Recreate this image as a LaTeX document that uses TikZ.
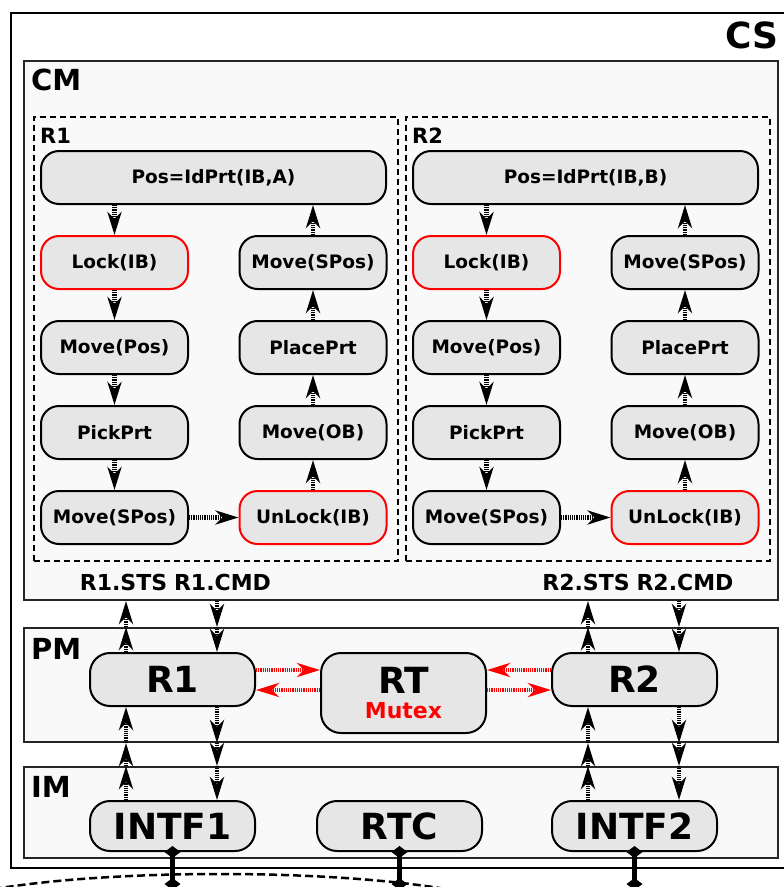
\documentclass[tikz,border=0pt]{standalone}
\usepackage{fontspec}
\setmainfont{DejaVu Sans}
\usetikzlibrary{arrows.meta}
\definecolor{layerfill}{HTML}{F9F9F9}
\definecolor{blkfill}{HTML}{E6E6E6}

\tikzset{
  blk/.style={draw, line width=2pt, fill=blkfill, rounded corners=18pt, inner sep=0pt,
    minimum width=147pt, minimum height=53pt, font=\fontsize{18.5}{20}\selectfont\bfseries},
  lockblk/.style={blk, draw=red},
  bigblk/.style={blk, minimum width=165pt, rounded corners=20pt, font=\fontsize{36}{40}\selectfont\bfseries},
  layer/.style={draw=black!85, line width=2pt, fill=layerfill, anchor=north west, inner sep=0pt, minimum width=754pt},
  robot/.style={draw, dash pattern=on 6pt off 4pt, line width=1.8pt, anchor=north west, inner sep=0pt,
    minimum width=364pt, minimum height=444pt},
  flow/.style={line width=4.5pt, dash pattern=on 1.2pt off 1pt, -{Stealth[length=23pt,width=14pt,inset=7pt]}},
  mutexflow/.style={flow, draw=red, fill=red},
  link/.style={line width=5pt, {Diamond[length=12pt,width=16pt]}-{Diamond[length=12pt,width=16pt]}},
  tag/.style={font=\fontsize{29}{30}\selectfont\bfseries, anchor=base west, inner sep=0pt},
  port/.style={font=\fontsize{22}{24}\selectfont\bfseries, anchor=base, inner sep=0pt}
}

\begin{document}
\begin{tikzpicture}[x=1pt,y=-1pt]
  \useasboundingbox (0,0) rectangle (784,887);

  % layers
  \node[draw, line width=2pt, fill=white, anchor=north west, inner sep=0pt,
    minimum width=790pt, minimum height=855pt] (cs) at (10,12) {};
  \node[tag, anchor=base east, font=\fontsize{36}{40}\selectfont\bfseries] (cstag) at (779,48) {CS};
  \node[layer, minimum height=539pt] (cm) at (23,60) {};
  \node[layer, minimum height=114pt] (pm) at (23,627) {};
  \node[layer, minimum height=91pt] (im) at (23,766) {};
  \node[tag] (cmtag) at (31,90) {CM};
  \node[tag] (pmtag) at (31,659) {PM};
  \node[tag] (imtag) at (31,797) {IM};

  % robot programs
  \foreach \rb/\dx/\ab in {1/0/A, 2/372/B} {
    \node[robot] (rbox\rb) at (33+\dx,116) {};
    \node[tag, font=\fontsize{21}{22}\selectfont\bfseries] (rtag\rb) at (40+\dx,143) {R\rb};
    \node[blk, minimum width=345pt] (pos\rb) at (213.5+\dx,177.5) {Pos=IdPrt(IB,\ab)};
    \node[lockblk] (lock\rb) at (114.5+\dx,262.5) {Lock(IB)};
    \node[blk] (mvpos\rb) at (114.5+\dx,347.5) {Move(Pos)};
    \node[blk] (pick\rb) at (114.5+\dx,432.5) {PickPrt};
    \node[blk] (mvsb\rb) at (114.5+\dx,517.5) {Move(SPos)};
    \node[lockblk] (unlock\rb) at (313+\dx,517.5) {UnLock(IB)};
    \node[blk] (mvob\rb) at (313+\dx,432.5) {Move(OB)};
    \node[blk] (place\rb) at (313+\dx,347.5) {PlacePrt};
    \node[blk] (mvst\rb) at (313+\dx,262.5) {Move(SPos)};
    \draw[flow] (pos\rb.south -| lock\rb.north) -- (lock\rb.north);
    \draw[flow] (lock\rb) -- (mvpos\rb);
    \draw[flow] (mvpos\rb) -- (pick\rb);
    \draw[flow] (pick\rb) -- (mvsb\rb);
    \draw[flow] (mvsb\rb) -- (unlock\rb);
    \draw[flow] (unlock\rb) -- (mvob\rb);
    \draw[flow] (mvob\rb) -- (place\rb);
    \draw[flow] (place\rb) -- (mvst\rb);
    \draw[flow] (mvst\rb.north) -- (mvst\rb.north |- pos\rb.south);
  }
  \node[port] (sts1tag) at (123.5,590) {R1.STS};
  \node[port] (cmd1tag) at (222.5,590) {R1.CMD};
  \node[port] (sts2tag) at (586,590) {R2.STS};
  \node[port] (cmd2tag) at (685,590) {R2.CMD};

  % process and interface modules
  \node[bigblk] (pr1) at (172.5,679.5) {R1};
  \node[bigblk, minimum height=80pt, align=center] (rt) at (403.5,693)
    {RT\\[-15pt]\textcolor{red}{\fontsize{22}{24}\selectfont Mutex}};
  \node[bigblk] (pr2) at (634.5,679.5) {R2};
  \node[bigblk, minimum height=50pt] (intf1) at (172.5,826) {INTF1};
  \node[bigblk, minimum height=50pt] (rtc) at (399.5,826) {RTC};
  \node[bigblk, minimum height=50pt] (intf2) at (634.5,826) {INTF2};

  % mutex requests
  \draw[mutexflow] ([yshift=9.5pt]pr1.east) -- ([yshift=9.5pt]pr1.east -| rt.west);
  \draw[mutexflow] ([yshift=-10.5pt]pr1.east -| rt.west) -- ([yshift=-10.5pt]pr1.east);
  \draw[mutexflow] ([yshift=9.5pt]pr2.west) -- ([yshift=9.5pt]pr2.west -| rt.east);
  \draw[mutexflow] ([yshift=-10.5pt]pr2.west -| rt.east) -- ([yshift=-10.5pt]pr2.west);

  % status and command channels
  \coordinate (sts1) at (126,0);
  \coordinate (cmd1) at (217,0);
  \coordinate (sts2) at (588,0);
  \coordinate (cmd2) at (679,0);
  \draw[flow] (sts1 |- pr1.north) -- (sts1 |- pm.north);
  \draw[flow] (sts1 |- pm.north) -- (sts1 |- cm.south);
  \draw[flow] (cmd1 |- cm.south) -- (cmd1 |- pm.north);
  \draw[flow] (cmd1 |- pm.north) -- (cmd1 |- pr1.north);
  \draw[flow] (sts1 |- intf1.north) -- (sts1 |- im.north);
  \draw[flow] (sts1 |- im.north) -- (sts1 |- pm.south);
  \draw[flow] (sts1 |- pm.south) -- (sts1 |- pr1.south);
  \draw[flow] (cmd1 |- pr1.south) -- (cmd1 |- pm.south);
  \draw[flow] (cmd1 |- pm.south) -- (cmd1 |- im.north);
  \draw[flow] (cmd1 |- im.north) -- (cmd1 |- intf1.north);
  \draw[flow] (sts2 |- pr2.north) -- (sts2 |- pm.north);
  \draw[flow] (sts2 |- pm.north) -- (sts2 |- cm.south);
  \draw[flow] (cmd2 |- cm.south) -- (cmd2 |- pm.north);
  \draw[flow] (cmd2 |- pm.north) -- (cmd2 |- pr2.north);
  \draw[flow] (sts2 |- intf2.north) -- (sts2 |- im.north);
  \draw[flow] (sts2 |- im.north) -- (sts2 |- pm.south);
  \draw[flow] (sts2 |- pm.south) -- (sts2 |- pr2.south);
  \draw[flow] (cmd2 |- pr2.south) -- (cmd2 |- pm.south);
  \draw[flow] (cmd2 |- pm.south) -- (cmd2 |- im.north);
  \draw[flow] (cmd2 |- im.north) -- (cmd2 |- intf2.north);

  % bus
  \draw[line width=2.5pt, dash pattern=on 8pt off 4pt] (220,918) ellipse [x radius=300pt, y radius=44pt];
  \coordinate (tap1) at ([yshift=-38pt]intf1.south);
  \coordinate (tap2) at ([yshift=-38pt]rtc.south);
  \coordinate (tap3) at ([yshift=-38pt]intf2.south);
  \draw[link] ([yshift=6pt]intf1.south) -- (tap1);
  \draw[link] ([yshift=6pt]rtc.south) -- (tap2);
  \draw[link] ([yshift=6pt]intf2.south) -- (tap3);
\end{tikzpicture}
\end{document}
